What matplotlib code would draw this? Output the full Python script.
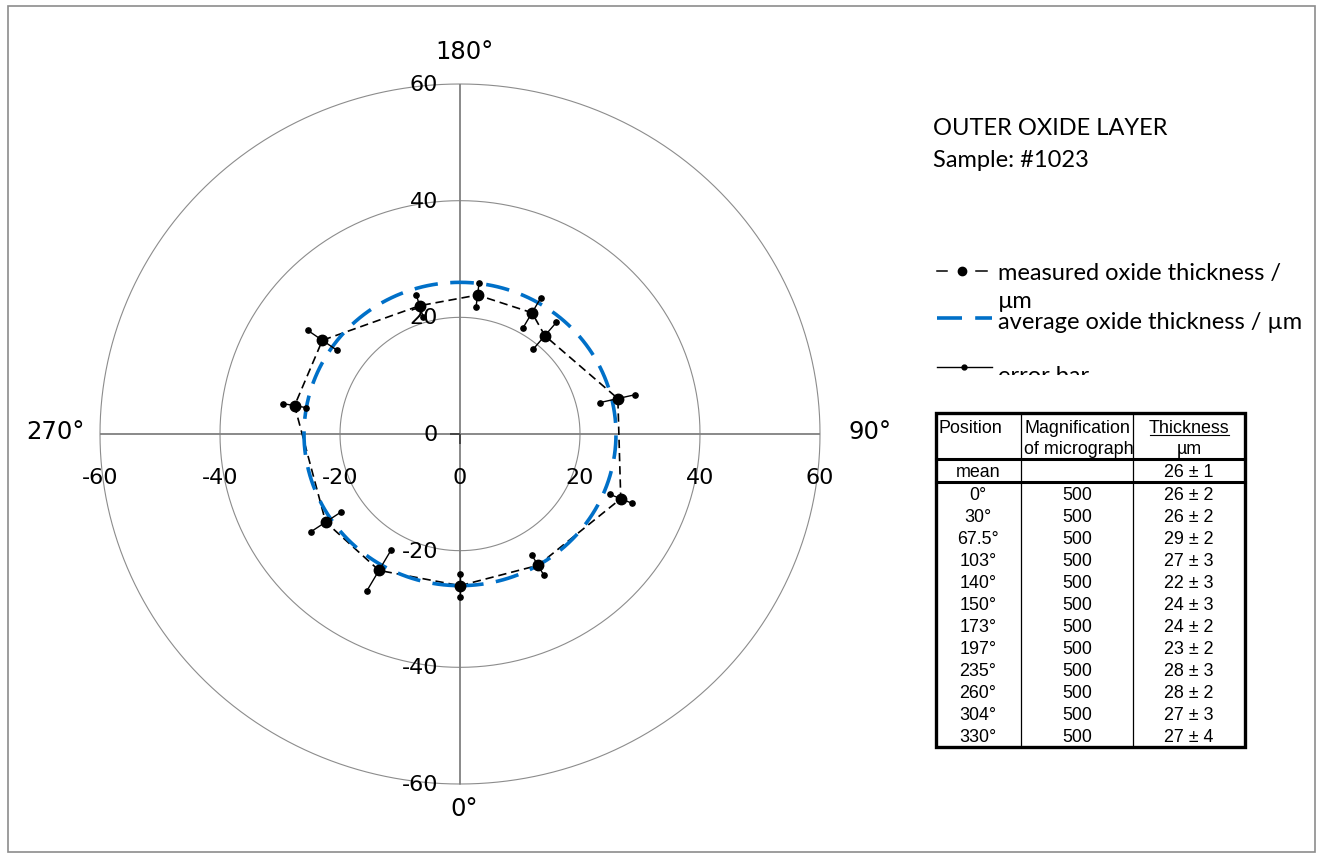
import numpy as np
import matplotlib
matplotlib.use("Agg")
import matplotlib.pyplot as plt
from matplotlib.patches import Rectangle

plt.rcParams['lines.scale_dashes'] = False

# measured positions (deg), thickness (um) and error (um)
positions = [0, 30, 67.5, 103, 140, 150, 173, 197, 235, 260, 304, 330]
thickness = [26, 26, 29, 27, 22, 24, 24, 23, 28, 28, 27, 27]
errors = [2, 2, 2, 3, 3, 3, 2, 2, 3, 2, 3, 4]
magnification = [500] * 12
mean_thickness = 26
mean_error = 1

ring_radii = [20, 40, 60]
axis_ticks = [-60, -40, -20, 0, 20, 40, 60]
angle_marks = [0, 90, 180, 270]
angle_offsets = [(4, -24), (50, 3), (4, 33), (-45, 3)]

W, H = 1321, 854
fig = plt.figure(figsize=(W / 100, H / 100), dpi=100)


def to_xy(angle_deg, r):
    a = np.deg2rad(angle_deg)
    return np.asarray(r) * np.sin(a), -np.asarray(r) * np.cos(a)


ax = fig.add_axes([100 / W, 69 / H, 720 / W, 700 / H])
ax.set_xlim(-60, 60)
ax.set_ylim(-60, 60)
ax.axis('off')

# rings and axes
t = np.linspace(0, 360, 721)
for r in ring_radii:
    gx, gy = to_xy(t, r)
    ax.plot(gx, gy, color='#8c8c8c', lw=0.8, zorder=1, clip_on=False)
ax.plot([axis_ticks[0], axis_ticks[-1]], [0, 0], color='#808080', lw=1.3, zorder=1)
ax.plot([0, 0], [axis_ticks[0], axis_ticks[-1]], color='#808080', lw=1.3, zorder=1)
ax.plot([0], [0], marker=0, ms=7, mew=1.3, color='#404040', zorder=1)
ax.plot([0], [0], marker=3, ms=7, mew=1.3, color='#404040', zorder=1)

for v in axis_ticks:
    ax.annotate(str(v), (v, 0), xytext=(0, -43), textcoords='offset pixels',
                ha='center', va='center', fontsize=16, family='DejaVu Sans')
    ax.annotate(str(v), (0, v), xytext=(-22, 0), textcoords='offset pixels',
                ha='right', va='center', fontsize=16, family='DejaVu Sans')

for ang, off in zip(angle_marks, angle_offsets):
    lx, ly = to_xy(ang, 60)
    ax.annotate(f"{ang}°", (lx, ly), xytext=off, textcoords='offset pixels',
                ha='center', va='center', fontsize=17.5, family='DejaVu Sans')

# average ring
mx, my = to_xy(t, mean_thickness)
ax.plot(mx, my, color='#0070c8', lw=2.6, dashes=(17, 9), zorder=3)

# measured thickness
closed_pos = positions + positions[:1]
closed_th = thickness + thickness[:1]
px_, py_ = to_xy(np.array(closed_pos), np.array(closed_th))
ax.plot(px_, py_, color='black', lw=1.2, dashes=(6, 3.5), zorder=2)
ax.plot(px_[:-1], py_[:-1], 'o', color='black', ms=7.5, zorder=5)

# error bars along radial direction
for p, r, e in zip(positions, thickness, errors):
    ex, ey = to_xy(p, np.array([r - e, r + e]))
    ax.plot(ex, ey, color='black', lw=1.0, marker='o', ms=3.8, zorder=4)

# overlay in pixel coordinates for legend, table and frame
ov = fig.add_axes([0, 0, 1, 1])
ov.set_xlim(0, W)
ov.set_ylim(H, 0)
ov.axis('off')

ov.add_patch(Rectangle((8, 7), 1307, 846, fill=False, ec='#8c8c8c', lw=1.2, zorder=12))

lfont = dict(family='Lato', fontsize=17)
ov.text(933, 135, "OUTER OXIDE LAYER", va='baseline', **lfont)
ov.text(933, 167, "Sample: #1023", va='baseline', **lfont)

# legend entries
ov.plot([937, 947], [272, 272], color='black', lw=1.1)
ov.plot([976, 987], [272, 272], color='black', lw=1.1)
ov.plot([962], [272], 'o', color='black', ms=6)
ov.text(998, 280, "measured oxide thickness /", va='baseline', **lfont)
ov.text(998, 308, "µm", va='baseline', **lfont)
ov.plot([937, 992], [319, 319], color='#0070c8', lw=2.6, dashes=(18, 9.5))
ov.text(998, 329, "average oxide thickness / µm", va='baseline', **lfont)
ov.plot([937, 992], [368, 368], color='black', lw=1.0)
ov.plot([964], [368], 'o', color='black', ms=3.5)
ov.text(998, 383, "error bar", va='baseline', **lfont)
ov.add_patch(Rectangle((930, 376), 380, 30, fc='white', ec='none', zorder=10))

# table
tl, tr, tt, tb = 936, 1245, 414, 748
c1, c2 = 1021, 1133
ov.add_patch(Rectangle((tl, tt), tr - tl, tb - tt, fill=False, ec='black', lw=2.4, zorder=11))
ov.plot([c1, c1], [tt, tb], color='black', lw=0.9)
ov.plot([c2, c2], [tt, tb], color='black', lw=0.9)
ov.plot([tl, tr], [460, 460], color='black', lw=2.2)
ov.plot([tl, tr], [483, 483], color='black', lw=2.2)

tfont = dict(family='Liberation Sans', fontsize=12.9, va='baseline')
ov.text(939, 433, "Position", ha='left', **tfont)
ov.text(1024, 433, "Magnification", ha='left', **tfont)
ov.text(1024, 454, "of micrograph", ha='left', **tfont)
ov.text(1189, 433, "Thickness", ha='center', **tfont)
ov.plot([1150, 1229], [436, 436], color='black', lw=0.8)
ov.text(1189, 454, "µm", ha='center', **tfont)

ov.text(978, 477, "mean", ha='center', **tfont)
ov.text(1189, 477, f"{mean_thickness} ± {mean_error}", ha='center', **tfont)

for i, (p, m, r, e) in enumerate(zip(positions, magnification, thickness, errors)):
    yb = 500 + 22 * i
    ov.text(978, yb, f"{p:g}°", ha='center', **tfont)
    ov.text(1077, yb, str(m), ha='center', **tfont)
    ov.text(1189, yb, f"{r} ± {e}", ha='center', **tfont)

fig.savefig("out.png", dpi=100)
